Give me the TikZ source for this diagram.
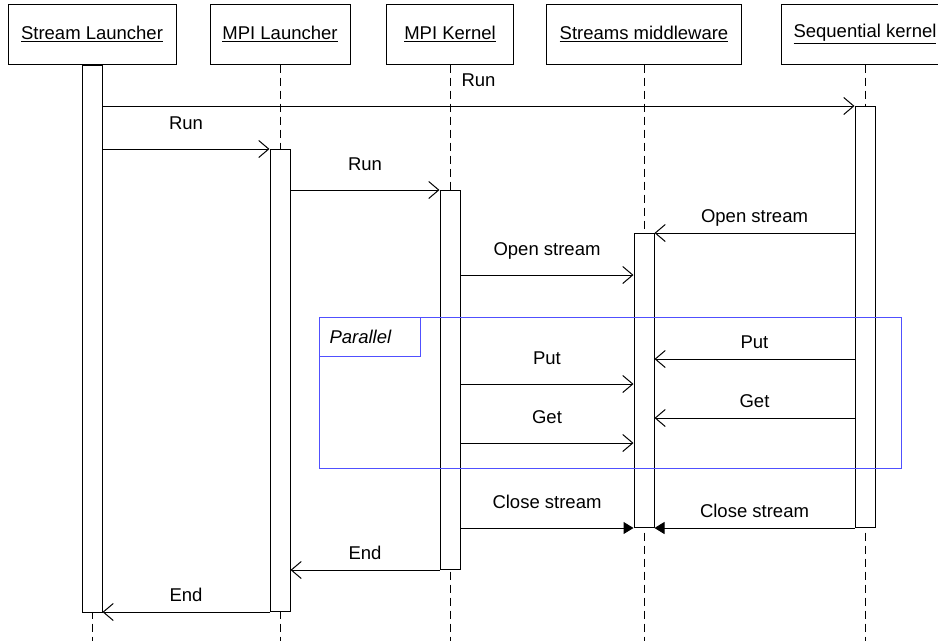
\documentclass[tikz,border=0pt]{standalone}
\usepackage{fontspec}
\setmainfont{Liberation Sans}
\usetikzlibrary{arrows.meta}
\definecolor{fragblue}{RGB}{80,80,255}
\begin{document}
\begin{tikzpicture}
  [x=1pt,y=-1pt,line width=1pt,font=\fontsize{18.5pt}{22pt}\selectfont,
   head/.style={draw,rectangle,minimum height=60pt,inner sep=0pt,fill=white},
   bar/.style={draw,rectangle,minimum width=20pt,inner sep=0pt,fill=white,anchor=north},
   life/.style={dash pattern=on 8pt off 5pt},
   msg/.style={-{Straight Barb[length=10pt,width=17pt]}},
   closemsg/.style={-{Triangle[length=10pt,width=12pt]}},
   fwd/.style={anchor=base,yshift=19.5pt},
   back/.style={anchor=base,yshift=10.5pt}]

  \useasboundingbox (0,0) rectangle (938,641);
  \clip (0,0) rectangle (938,641);

  \node[head,minimum width=168pt] (sl) at (92,34) {\underline{Stream Launcher}};
  \node[head,minimum width=140pt] (ml) at (280,34) {\underline{MPI Launcher}};
  \node[head,minimum width=127pt] (mk) at (450,34) {\underline{MPI Kernel}};
  \node[head,minimum width=195pt] (sm) at (644,34) {\underline{Streams middleware}};
  \node[head,minimum width=168pt] (sk) at (865,34) {\underline{Sequential kernel}};

  \foreach \n in {sl,ml,mk,sm,sk}
    \draw[life] (\n.south) -- (\n.south |- 0,641);

  \node[bar,minimum height=547pt] (slbar) at (sl.south) {};
  \node[bar,minimum height=462pt] (mlbar) at (ml.south |- 0,149) {};
  \node[bar,minimum height=379pt] (mkbar) at (mk.south |- 0,190) {};
  \node[bar,minimum height=294pt] (smbar) at (sm.south |- 0,233) {};
  \node[bar,minimum height=421pt] (skbar) at (sk.south |- 0,106) {};

  \draw[msg] (slbar.east |- skbar.north) -- node[fwd] {Run} (skbar.north west);
  \draw[msg] (slbar.east |- mlbar.north) -- node[fwd] {Run} (mlbar.north west);
  \draw[msg] (mlbar.east |- mkbar.north) -- node[fwd] {Run} (mkbar.north west);
  \draw[msg] (skbar.west |- smbar.north) -- node[back] {Open stream} (smbar.north east);
  \draw[msg] (mkbar.east |- 0,275) -- node[fwd] {Open stream} (smbar.west |- 0,275);

  \node[draw=fragblue,minimum width=582pt,minimum height=151pt,
        anchor=north west] (par) at (319,317) {};
  \node[draw=fragblue,minimum height=39pt,text width=81pt,
        inner xsep=10pt,inner ysep=0pt,align=left,anchor=north west]
        (parlbl) at (par.north west) {\itshape Parallel};

  \draw[msg] (skbar.west |- 0,359) -- node[back] {Put} (smbar.east |- 0,359);
  \draw[msg] (mkbar.east |- 0,384) -- node[fwd] {Put} (smbar.west |- 0,384);
  \draw[msg] (skbar.west |- 0,418) -- node[back] {Get} (smbar.east |- 0,418);
  \draw[msg] (mkbar.east |- 0,443) -- node[fwd] {Get} (smbar.west |- 0,443);

  \draw[closemsg] (mkbar.east |- smbar.south) -- node[fwd] {Close stream} (smbar.south west);
  \draw[closemsg] (skbar.south west) -- node[back] {Close stream} (smbar.south east);
  \draw[msg] (mkbar.south west) -- node[back] {End} (mlbar.east |- mkbar.south);
  \draw[msg] (mlbar.south west) -- node[back] {End} (slbar.east |- mlbar.south);
\end{tikzpicture}
\end{document}
